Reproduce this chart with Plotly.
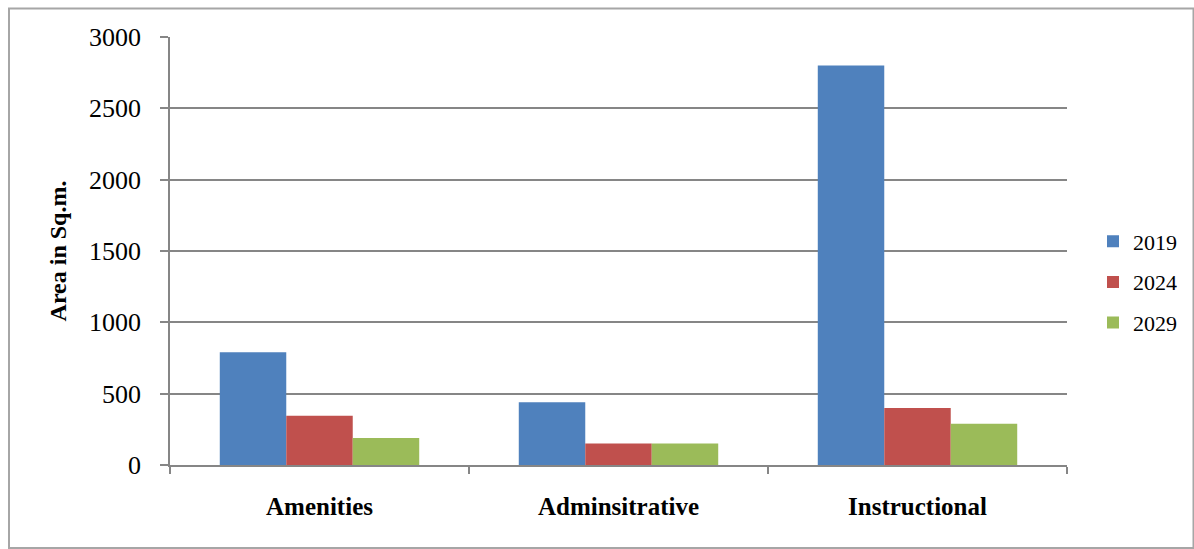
import plotly.graph_objects as go

categories = ["Amenities", "Adminsitrative", "Instructional"]
years = ["2019", "2024", "2029"]
values_2019 = [790, 440, 2800]
values_2024 = [345, 150, 400]
values_2029 = [190, 150, 290]
colors = ["#4F81BD", "#C0504D", "#9BBB59"]
y_ticks = [0, 500, 1000, 1500, 2000, 2500, 3000]

fig = go.Figure()
for name, vals, col in zip(years, [values_2019, values_2024, values_2029], colors):
    fig.add_trace(go.Bar(x=categories, y=vals, name=name, marker_color=col,
                         marker_line_width=0, legendgroup=name))

FONT = "Liberation Serif"
L, R, T, B = 170, 127, 37, 84
W, H = 1194, 549
pw, ph = W - L - R, H - T - B

fig.update_layout(
    width=W, height=H,
    margin=dict(l=L, r=R, t=T, b=B, autoexpand=False),
    paper_bgcolor="white", plot_bgcolor="white",
    barmode="group", bargap=0.333, bargroupgap=0,
    font=dict(family=FONT, color="black"),
    showlegend=True,
    legend=dict(xref="container", yref="container",
                x=1093 / W, xanchor="left", y=1 - 282 / H, yanchor="middle",
                font=dict(family=FONT, size=22), traceorder="grouped", tracegroupgap=9,
                itemwidth=30, bgcolor="rgba(0,0,0,0)"),
    xaxis=dict(showline=True, linecolor="#868686", linewidth=1.5,
               ticks="outside", tickson="boundaries", ticklen=7, tickcolor="#868686", tickwidth=1.5,
               tickfont=dict(family=FONT, size=25, weight="bold"), ticklabelstandoff=18,
               showgrid=False),
    yaxis=dict(range=[0, 3000], tickvals=y_ticks, showline=True, linecolor="#868686", linewidth=1.5,
               ticks="outside", ticklen=8, tickcolor="#868686", tickwidth=1.5,
               gridcolor="#868686", gridwidth=1.5,
               tickfont=dict(family=FONT, size=26), ticklabelstandoff=14,
               title=dict(text="Area in Sq.m.", font=dict(family=FONT, size=24, weight="bold"), standoff=16),
               zeroline=False),
    shapes=[dict(type="rect", xref="paper", yref="paper",
                 x0=(9 - L) / pw, x1=(1193.5 - L) / pw,
                 y0=(H - B - 548) / ph, y1=(H - B - 8.5) / ph,
                 line=dict(color="#A6A6A6", width=2), layer="below")],
)

fig.write_html("out.html")
